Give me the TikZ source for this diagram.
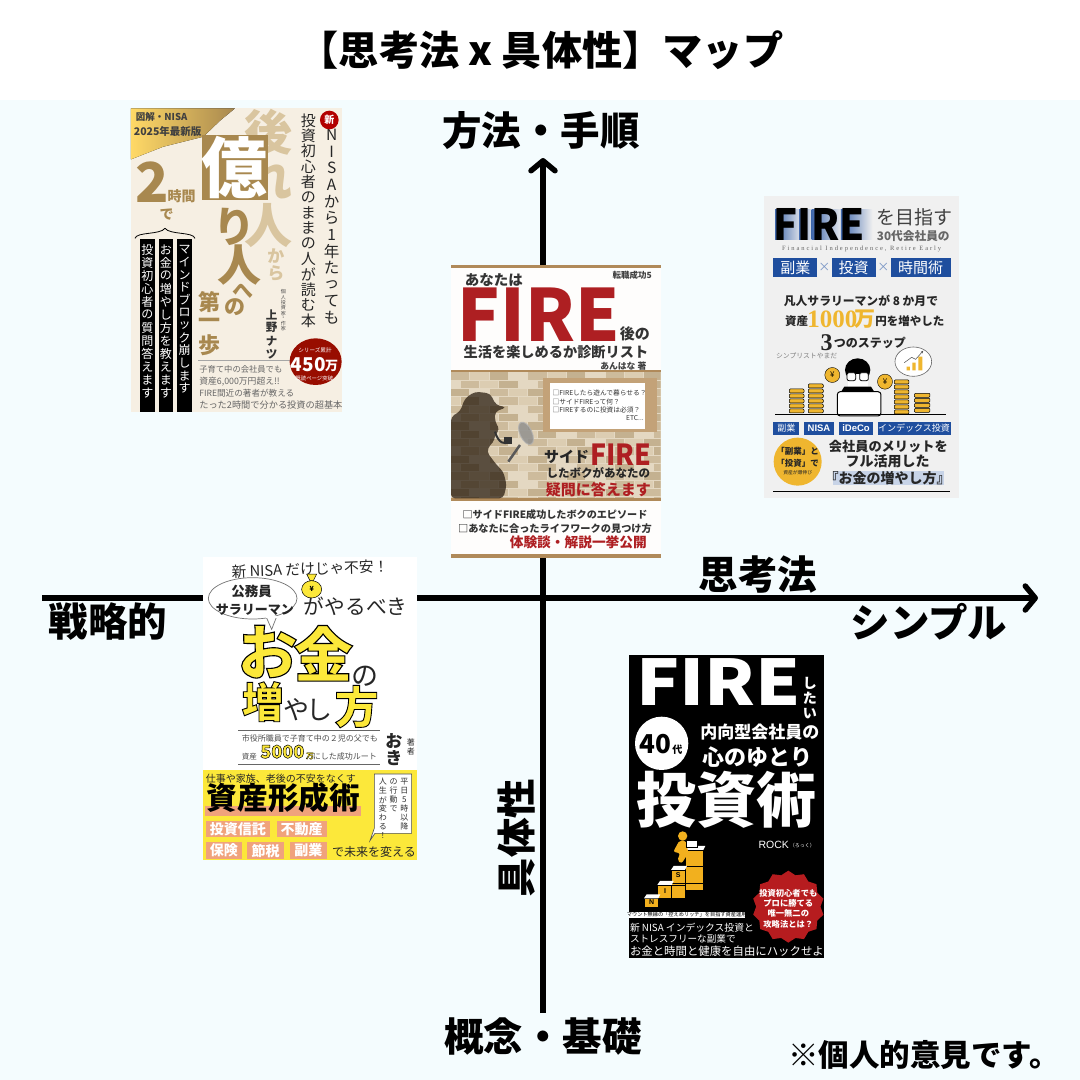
\documentclass[tikz,border=0pt]{standalone}
\usepackage{fontspec}
\usepackage{amsmath}
\usetikzlibrary{arrows.meta, shapes.geometric, positioning}
\setmainfont{Noto Sans CJK JP}
\newfontfamily\latinbold{Liberation Sans}[BoldFont={Liberation Sans Bold}]
\newfontfamily\serifbold{Liberation Serif}[BoldFont={Liberation Serif Bold}]
\newfontfamily\serifspaced{Liberation Serif}[LetterSpace=30]
\newfontfamily\heavycjk{Noto Sans CJK JP Black}
\definecolor{mapbg}{HTML}{F4FCFE}
\definecolor{goldbrown}{HTML}{A8884F}
\definecolor{palegold}{HTML}{D9C59F}
\definecolor{creamy}{HTML}{F6EFE3}
\definecolor{firered}{HTML}{AE1F22}
\definecolor{stripbrown}{HTML}{B08A5A}
\definecolor{brick0}{HTML}{CDBB9C}
\definecolor{brick1}{HTML}{DCCDB2}
\definecolor{brick2}{HTML}{C4B190}
\definecolor{brick3}{HTML}{E4D8C2}
\definecolor{fireblue}{HTML}{1F4E9E}
\definecolor{coingold}{HTML}{EFB62F}
\definecolor{lemon}{HTML}{FCE83A}
\definecolor{salmon}{HTML}{F0A27C}
\definecolor{amber}{HTML}{F2B01E}
\makeatletter
\newcommand\vstr[2]{\vbox{\offinterlineskip\@tfor\vch:=#2\do{\vbox to #1pt{\vss\hbox to #1pt{\hss\vch\hss}\vss}}}}
\makeatother
\newcommand\outl[2][1]{\special{pdf:code q 2 Tr #1 w 0 0 0 RG}#2\special{pdf:code Q}}
\tikzset{
	fs/.style={font=\fontsize{#1}{#1}\selectfont,inner sep=0pt,outer sep=0pt},
	fb/.style={font=\fontsize{#1}{#1}\selectfont\bfseries,inner sep=0pt,outer sep=0pt},
	fk/.style={font=\heavycjk\fontsize{#1}{#1}\selectfont,inner sep=0pt,outer sep=0pt},
	fl/.style={font=\latinbold\fontsize{#1}{#1}\selectfont\bfseries,inner sep=0pt,outer sep=0pt},
	fr/.style={font=\serifbold\fontsize{#1}{#1}\selectfont\bfseries,inner sep=0pt,outer sep=0pt},
	axis/.style={line width=5.5pt,-{Straight Barb[length=10pt,width=24pt,round]}},
	maplabel/.style={fb=39.5,black},
	bookscope/.style 2 args={shift={(#1,#2)},x=0.3333pt,y=-0.3333pt},
	wide/.style={xscale=#1,transform shape},
	vtop/.style={anchor=north},
	bluebox/.style={fill=fireblue},
	coin/.style={fill=coingold,draw=black,line width=.5pt,rounded corners=1pt},
	block/.style={fill=amber,draw=black,line width=.4pt},
}
\begin{document}
\begin{tikzpicture}[x=1pt,y=-1pt]
	\useasboundingbox (0,0) rectangle (1080,1080);
	\fill[white] (0,0) rectangle (1080,100);
	\fill[mapbg] (0,100) rectangle (1080,1080);

	\coordinate (axleft) at (42,598);
	\coordinate (axright) at (1038,598);
	\coordinate (axbottom) at (543,1013);
	\coordinate (axtop) at (543,158);
	\draw[axis] (axleft) -- (axright);
	\draw[axis] (axbottom) -- (axtop);

	\node(title) [fb=40.2] at (541,50) {【思考法 x 具体性】マップ};
	\node(top) [maplabel] at (541,131) {方法・手順};
	\node(bottom) [maplabel] at (543,1037) {概念・基礎};
	\node(left) [maplabel] at (108,622) {戦略的};
	\node(right) [maplabel] at (929,622) {シンプル};
	\node(think) [maplabel] at (758,575) {思考法};
	\node(concrete) [maplabel,rotate=90] at (516,838) {具体性};
	\node(note) [fb=30.5] at (924,1055) {※個人的意見です。};

	% book top left
	\begin{scope}[bookscope={120}{100}]
		\fill[creamy] (33,25) rectangle (665,935);
		\fill[left color=yellow!50!orange!60!white,right color=goldbrown] (33,25) -- (345,25) -- (300,62) -- (250,110) -- (130,140) -- (33,178) -- cycle;
		\node(aone) [fb=9.5,black!75] at (125,52) {図解・NISA};
		\node(atwo) [fb=10.5,black!75] at (143,93) {2025年最新版};
		\node(back) [fb=48,palegold,vtop] at (445,25) {\vstr{47}{後れ人}};
		\node(kara) [fb=17,palegold,vtop] at (468,440) {\vstr{18}{から}};
		\fill[goldbrown] (245,105) rectangle (445,300);
		\node(oku) [fk=66,white] at (345,203) {億};
		\node(ri) [fb=42,goldbrown] at (345,380) {り};
		\node(hito) [fb=44,goldbrown] at (358,495) {人};
		\node(he) [fb=21,goldbrown] at (368,572) {へ};
		\node(no) [fb=21,goldbrown] at (345,622) {の};
		\node(first) [fb=22,goldbrown,vtop] at (270,572) {\vstr{22}{第一歩}};
		\node(two) [fk=55,goldbrown] at (98,245) {2};
		\node(hours) [fb=14,goldbrown] at (185,288) {時間};
		\node(de) [fb=14,goldbrown] at (140,345) {で};
		\draw[line width=.8pt] (45,415) .. controls (50,395) and (120,405) .. (135,385) .. controls (150,405) and (220,395) .. (225,415);
		\foreach \xa/\xb in {60/105,117/160,172/215}
			\fill[black] (\xa,418) rectangle (\xb,935);
		\node(barone) [fs=12,white,vtop] at (82,430) {\vstr{13}{投資初心者の質問答えます}};
		\node(bartwo) [fs=12,white,vtop] at (138,430) {\vstr{13}{お金の増やし方を教えます}};
		\node(barthree) [fs=12,white,vtop] at (194,430) {\vstr{12.6}{マインドブロック崩します}};
		\node(writerjob) [fs=5,black!70,vtop] at (490,568) {\vstr{5.3}{個人投資家・作家}};
		\node(writer) [fb=11.5,black!80,vtop] at (455,625) {\vstr{13}{上野ナツ}};
		\node(nisacol) [fs=15.5,black!85,vtop] at (635,80) {\vstr{16.6}{NISAから1年たっても}};
		\node(readcol) [fs=15,black!85,vtop] at (565,38) {\vstr{15.4}{投資初心者のままの人が読む本}};
		\fill[red!70!black] (628,60) circle (28);
		\node(new) [fb=10,white] at (628,60) {新};
		\draw[black!35,line width=.6pt] (235,780) -- (510,780);
		\node(lineone) [fs=8.3,black!60,anchor=west] at (238,808) {子育て中の会社員でも};
		\node(linetwo) [fs=8.8,black!60,anchor=west] at (238,845) {資産6,000万円超え!!};
		\node(linethree) [fs=8.6,black!60,anchor=west] at (238,880) {FIRE間近の著者が教える};
		\node(linefour) [fs=9.2,black!60,anchor=west] at (238,915) {たった2時間で分かる投資の超基本};
		\fill[red!55!black!90!orange] (587,785) ellipse [x radius=78,y radius=70];
		\node(series) [fs=5.6,white] at (585,752) {シリーズ累計};
		\node(count) [fk=19,white] at (565,795) {450};
		\node(man) [fb=13,white] at (635,798) {万};
		\node(pages) [fs=5.4,white] at (583,835) {既読ページ突破};
	\end{scope}

	% book middle
	\begin{scope}[bookscope={440}{255}]
		\fill[white!90!creamy] (33,30) rectangle (662,908);
		\fill[brick3] (33,352) rectangle (662,730);
		\begin{scope}
			\clip (33,352) rectangle (662,730);
			\foreach \r in {0,...,15}
				\foreach \c in {0,...,11}{
					\pgfmathtruncatemacro\t{mod(\r*7+\c*5,4)}
					\fill[brick\t] ({33+\c*58-mod(\r,2)*29},{352+\r*25}) rectangle +(55,22);
				}
		\end{scope}
		\foreach \ya/\yb in {30/38,345/352,730/738,898/908}
			\fill[stripbrown] (33,\ya) rectangle (662,\yb);
		\fill[black!80!brown,opacity=.72,rounded corners=4pt] (33,730) -- (33,485) -- (60,470) -- (75,430) -- (105,410) -- (150,415) -- (168,450) -- (200,457) -- (165,470) -- (165,500) -- (180,525) -- (165,535) -- (165,555) -- (150,570) -- (140,590) -- (170,630) -- (190,650) -- (200,690) -- (190,730) -- cycle;
		\draw[black!80,line width=2pt] (165,530) .. controls (175,565) and (195,570) .. (205,560);
		\fill[black!80] (192,545) rectangle (216,568);
		\draw[black!65,line width=2.5pt] (240,570) -- (205,620);
		\draw[black!30,line width=1pt,fill=black!45,opacity=.8,rotate around={25:(258,535)}] (258,535) ellipse [x radius=18,y radius=36];
		\fill[brick2!70!brown] (310,370) rectangle (650,530);
		\fill[white] (330,383) rectangle (615,522);
		\node(aska) [fs=6.7,black!80,anchor=west] at (338,415) {□FIREしたら遊んで暮らせる？};
		\node(askb) [fs=6.7,black!80,anchor=west] at (338,440) {□サイドFIREって何？};
		\node(askc) [fs=6.7,black!80,anchor=west] at (338,465) {□FIREするのに投資は必須？};
		\node(askd) [fs=6.7,black!80] at (585,490) {ETC...};
		\node(anata) [fb=14.5,black!80] at (162,75) {あなたは};
		\node(tenshoku) [fb=8.5,black!75] at (577,60) {転職成功5};
		\node(fire) [fk=72,firered,wide=.98] at (296,178) {FIRE};
		\node(after) [fb=15,black!80] at (585,235) {後の};
		\node(life) [fb=14.2,black!80] at (348,292) {生活を楽しめるか診断リスト};
		\node(anhana) [fb=8.8,black!75] at (550,332) {あんはな\ 著};
		\node(side) [fb=15,black!85] at (380,605) {サイド};
		\node(sidefire) [fk=29,firered,wide=.92] at (542,600) {FIRE};
		\node(boku) [fb=11.5,black!85] at (475,655) {したボクがあなたの};
		\node(answer) [fb=15,firered] at (475,703) {疑問に答えます};
		\node(epi) [fb=10.1,black!80] at (345,780) {□サイドFIRE成功したボクのエピソード};
		\node(work) [fb=10.2,black!80] at (345,822) {□あなたに合ったライフワークの見つけ方};
		\node(open) [fb=13.7,firered] at (415,862) {体験談・解説一挙公開};
	\end{scope}

	% book top right
	\begin{scope}[bookscope={755}{190}]
		\fill[black!6] (28,18) rectangle (612,925);
		\foreach \xa/\xb in {60/145,132/172,170/262,258/352}
			\fill[left color=fireblue!85,right color=black!6] (\xa,58) rectangle (\xb,148);
		\node(firetop) [fk=43,black,wide=.93] at (192,102) {FIRE};
		\node(mezasu) [fs=19,black!75] at (478,82) {を目指す};
		\node(age) [fb=11.7,black!60] at (475,137) {30代会社員の};
		\node(fin) [font=\serifspaced\fontsize{6.5}{6.5}\selectfont,inner sep=0pt,black!60] at (320,178) {Financial Independence, Retire Early};
		\fill[bluebox] (55,203) rectangle (187,262);
		\fill[bluebox] (230,203) rectangle (362,262);
		\fill[bluebox] (407,203) rectangle (587,262);
		\node(fuku) [fs=15,white] at (121,232) {副業};
		\node(toshi) [fs=15,white] at (296,232) {投資};
		\node(jikan) [fs=15,white] at (497,232) {時間術};
		\node(ka) [fs=12,fireblue!60] at (208,232) {×};
		\node(kb) [fs=12,fireblue!60] at (385,232) {×};
		\node(bonjin) [fb=11.8,black!85] at (318,332) {凡人サラリーマンが 8 か月で};
		\node(shisan) [fb=11.5,black!85] at (125,393) {資産};
		\node(tenm) [fr=25,coingold] at (232,387) {1000};
		\node(tenmm) [fb=21,coingold] at (330,387) {万};
		\node(fuyashi) [fb=11.5,black!85] at (465,393) {円を増やした};
		\node(three) [fr=24,black!85] at (215,457) {3};
		\node(steps) [fb=12,black!85] at (345,460) {つのステップ};
		\node(yamada) [fs=6.8,black!50] at (155,497) {シンプリストやまだ};
		\draw[black!60,fill=white,line width=.6pt] (475,515) ellipse [x radius=55,y radius=44];
		\fill[coingold] (455,530) rectangle (465,541) (472,518) rectangle (482,541) (490,500) rectangle (502,541);
		\draw[black!70,line width=.5pt,-{Stealth[length=3pt]}] (448,518) -- (470,502) -- (482,508) -- (505,482);
		\fill[black] (308,540) ellipse [x radius=38,y radius=35];
		\fill[white] (278,552) rectangle (338,590);
		\fill[black] (268,590) -- (348,590) -- (362,612) -- (254,612) -- cycle;
		\draw[black,fill=white,line width=.8pt,rounded corners=2pt] (276,548) rectangle (302,572) (314,548) rectangle (340,572);
		\draw[black,fill=white,line width=1pt,rounded corners=3pt] (247,605) rectangle (378,678);
		\draw[black,line width=.7pt] (60,672) -- (572,672);
		\foreach \y in {597,612,627,642,657}{
			\draw[coin] (103,\y) rectangle (147,{\y+12});
		}
		\foreach \y in {582,597,612,627,642,657}{
			\draw[coin] (160,\y) rectangle (205,{\y+12});
		}
		\foreach \y in {570,585,600,615,630,645,660}{
			\draw[coin] (418,\y) rectangle (462,{\y+12});
		}
		\foreach \y in {610,625,640,655}{
			\draw[coin] (478,\y) rectangle (525,{\y+12});
		}
		\node(yena) [circle,fill=coingold,draw=black,line width=.4pt,minimum size=15pt,inner sep=0pt,font=\fontsize{8}{8}\selectfont] at (232,555) {¥};
		\node(yenb) [circle,fill=coingold,draw=black,line width=.4pt,minimum size=15pt,inner sep=0pt,font=\fontsize{8}{8}\selectfont] at (390,575) {¥};
		\fill[bluebox] (55,695) rectangle (132,735);
		\fill[bluebox] (147,695) rectangle (238,735);
		\fill[bluebox] (252,695) rectangle (355,735);
		\fill[bluebox] (368,695) rectangle (587,735);
		\node(tagone) [fs=9,white] at (94,715) {副業};
		\node(tagtwo) [fl=9.5,white] at (192,715) {NISA};
		\node(tagthree) [fl=9.5,white] at (303,715) {iDeCo};
		\node(tagfour) [fs=9,white] at (477,715) {インデックス投資};
		\fill[coingold] (128,815) circle (72);
		\node(coma) [fb=8.5,black!85] at (128,785) {「副業」と};
		\node(comb) [fb=8.5,black!85] at (128,820) {「投資」で};
		\node(comc) [fs=4.8,black!85] at (128,847) {資産が爆伸び};
		\node(merit) [fb=13.2,black!85] at (400,770) {会社員のメリットを};
		\node(katsu) [fb=14,black!85] at (398,815) {フル活用した};
		\fill[fireblue!25] (235,843) rectangle (567,885);
		\node(howto) [fb=14,black!85] at (398,865) {『お金の増やし方』};
		\draw[black,line width=.7pt] (55,904) -- (585,904);
	\end{scope}

	% book lower left
	\begin{scope}[bookscope={195}{550}]
		\fill[white] (25,20) rectangle (665,930);
		\fill[lemon] (25,660) rectangle (665,930);
		\node(fuan) [fs=14.7,black!85,rotate=2] at (345,57) {新 NISA だけじゃ不安！};
		\draw[black!55,fill=white,line width=.7pt] (173,145) ellipse [x radius=133,y radius=62];
		\draw[black!55,fill=white,line width=.7pt] (215,204) -- (230,238) -- (245,200);
		\fill[white] (213,198) rectangle (247,204);
		\node(komu) [fb=13.5,black!85] at (170,125) {公務員};
		\node(salary) [fb=13,black!85] at (180,178) {サラリーマン};
		\fill[lemon,draw=black,line width=.5pt] (350,118) ellipse [x radius=30,y radius=26];
		\fill[lemon,draw=black,line width=.5pt] (335,72) -- (365,72) -- (355,92) -- (345,92) -- cycle;
		\node(bag) [fb=7,black] at (350,118) {¥};
		\node(yaru) [fs=20.7,black!85] at (482,170) {がやるべき};
		\node(o) [fk=60,lemon] at (218,305) {\outl[1.1]{お}};
		\node(kin) [fk=60,lemon] at (385,310) {\outl[1.1]{金}};
		\node(nomoji) [fs=27,black!85] at (510,380) {の};
		\node(masu) [fk=42,lemon] at (203,455) {\outl[.9]{増}};
		\node(ya) [fs=26,black!85] at (305,480) {や};
		\node(shi) [fs=26,black!85] at (375,480) {し};
		\node(kata) [fk=44,lemon] at (485,470) {\outl[.9]{方}};
		\draw[black!60,line width=1pt] (130,543) -- (555,543);
		\draw[black!60,line width=1pt] (130,645) -- (555,645);
		\node(city) [fs=8,black!70] at (345,565) {市役所職員で子育て中の２児の父でも};
		\node(asset) [fs=7.5,black!70] at (163,620) {資産};
		\node(five) [fb=18,lemon] at (262,605) {\outl[.5]{5000}};
		\node(fiveman) [fb=7.5,lemon] at (345,618) {\outl[.3]{万}};
		\node(route) [fs=8,black!70] at (450,620) {にした成功ルート};
		\node(oki) [fb=17,black!85,vtop] at (597,548) {\vstr{17}{おき}};
		\node(cho) [fs=8,black!85,vtop] at (648,565) {\vstr{9}{著者}};
		\node(shigoto) [fs=10,black!85] at (258,687) {仕事や家族、老後の不安をなくす};
		\fill[salmon] (30,768) rectangle (497,797);
		\node(keisei) [fb=30.6,black] at (265,743) {資産形成術};
		\foreach \xa/\ya/\xb/\yb in {33/812/225/862,245/812/395/862,33/877/140/927,157/877/268/927,285/877/395/927}
			\fill[salmon] (\xa,\ya) rectangle (\xb,\yb);
		\node(chipa) [fb=14,white] at (129,837) {投資信託};
		\node(chipb) [fb=14,white] at (320,837) {不動産};
		\node(chipc) [fb=14,white] at (87,902) {保険};
		\node(chipd) [fb=14,white] at (212,902) {節税};
		\node(chipe) [fb=14,white] at (340,902) {副業};
		\node(mirai) [fs=12,black!85] at (537,905) {で未来を変える};
		\draw[black!70,fill=white,line width=.6pt] (538,672) -- (650,672) -- (650,850) -- (540,850) -- (525,872) -- (538,835) -- cycle;
		\node(hei) [fs=8,black!80,vtop] at (628,682) {\vstr{9}{平日5時以降}};
		\node(kodo) [fs=8,black!80,vtop] at (596,682) {\vstr{9}{の行動で}};
		\node(jinsei) [fs=8,black!80,vtop] at (564,682) {\vstr{9}{人生が変わる！}};
	\end{scope}

	% book lower right
	\begin{scope}[bookscope={620}{650}]
		\fill[black] (28,15) rectangle (612,925);
		\node(firewhite) [fk=63,white,wide=1.14] at (295,95) {FIRE};
		\node(shitai) [fb=14,white,vtop] at (570,78) {\vstr{15}{したい}};
		\fill[white] (125,280) circle (80);
		\node(forty) [fk=26,black] at (105,283) {40};
		\node(dai) [fb=10,black] at (172,300) {代};
		\node(naiko) [fb=17,white] at (420,245) {内向型会社員の};
		\node(yutori) [fb=22,white] at (412,320) {心のゆとり};
		\node(jutsu) [fk=60,white] at (320,450) {投資術};
		\node(rock) [font=\latinbold\fontsize{10.5}{10.5}\selectfont,inner sep=0pt,white,anchor=west] at (415,585) {ROCK};
		\node(rocky) [fs=5,white,anchor=west] at (510,587) {（ろっく）};
		\foreach \xa/\xb/\ya/\yb in {72/115/745/772,112/155/705/745,153/195/660/745,195/250/600/720}
			\draw[block] (\xa,\ya) rectangle (\xb,\yb);
		\foreach \xa/\xb/\ya in {112/155/745,153/195/705,195/250/650,195/250/700,153/195/700}
			\draw[block] (\xa,\ya) -- (\xb,\ya);
		\foreach \xa/\xb/\ya in {72/115/745,112/155/705,153/195/660,195/250/600}
			\fill[white] (\xa,\ya) -- ({\xa+8},{\ya-12}) -- ({\xb+6},{\ya-12}) -- (\xb,\ya) -- cycle;
		\node(nn) [fl=7,black] at (95,757) {N};
		\node(ni) [fl=7,black] at (135,722) {I};
		\node(ns) [fl=7,black] at (175,675) {S};
		\node(na) [fl=7,black] at (228,585) {A};
		\fill[amber] (188,558) circle (14);
		\fill[amber,rounded corners=2pt] (178,572) -- (198,572) -- (205,610) -- (185,640) -- (172,632) -- (180,610) -- (160,605) -- cycle;
		\fill[white,draw=black,line width=.3pt] (198,570) rectangle (232,590);
		\node(burst) [star,star points=14,star point ratio=1.12,fill=firered!90!red,minimum size=72pt,inner sep=0pt] at (505,770) {};
		\node(bursta) [fb=8.3,white] at (505,730) {投資初心者でも};
		\node(burstb) [fb=8.3,white] at (505,760) {プロに勝てる};
		\node(burstc) [fb=8.3,white] at (505,790) {唯一無二の};
		\node(burstd) [fb=8.3,white] at (505,822) {攻略法とは？};
		\fill[white] (28,785) rectangle (375,803);
		\node(mount) [fs=5.2,black] at (200,794) {マウント無縁の「控えめリッチ」を目指す資産運用};
		\node(sinnisa) [fs=9.8,white,anchor=west] at (30,832) {新 NISA インデックス投資と};
		\node(stress) [fs=9.6,white,anchor=west] at (30,868) {ストレスフリーな副業で};
		\node(hack) [fs=11.4,white,anchor=west] at (30,905) {お金と時間と健康を自由にハックせよ};
	\end{scope}
\end{tikzpicture}
\end{document}
